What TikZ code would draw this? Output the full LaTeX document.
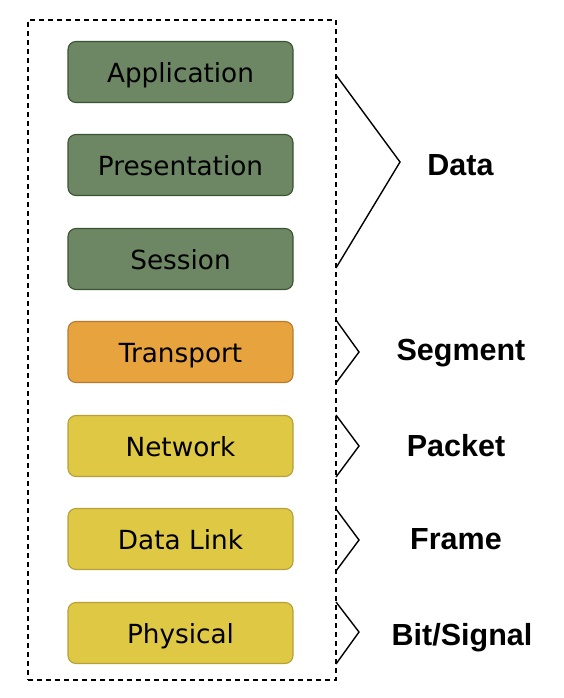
\documentclass[tikz,border=0pt]{standalone}
\usepackage{fontspec}
\setmainfont{DejaVu Sans}
\newfontfamily\labfont{Liberation Sans}
\definecolor{gfill}{HTML}{6D8764}
\definecolor{gdraw}{HTML}{3A5431}
\definecolor{ofill}{HTML}{E6A33E}
\definecolor{odraw}{HTML}{B97A2E}
\definecolor{yfill}{HTML}{DFC843}
\definecolor{ydraw}{HTML}{B5A03A}
\tikzset{
  layer/.style={rounded corners=8pt, minimum width=225pt, minimum height=61pt, line width=1.1pt, inner sep=0pt, text height=27pt, text depth=6pt, font=\fontsize{26.3}{30}\selectfont},
  glayer/.style={layer, fill=gfill, draw=gdraw},
  olayer/.style={layer, fill=ofill, draw=odraw},
  ylayer/.style={layer, fill=yfill, draw=ydraw},
  pdu/.style={font=\labfont\bfseries\fontsize{30.5}{34}\selectfont, inner sep=0pt, anchor=base},
  brace/.style={line width=1.4pt, line join=miter},
  frame/.style={draw, line width=1.3pt, dash pattern=on 5pt off 4pt}
}
\begin{document}
\begin{tikzpicture}[x=1pt,y=-1pt]
\useasboundingbox (0,0) rectangle (564,698);
\node[frame, minimum width=308pt, minimum height=660pt, inner sep=0pt] (box) at (182,350) {};
\node[glayer] (app) at (180.5,72) {Application};
\node[glayer] (pres) at (180.5,165) {Presentation};
\node[glayer] (sess) at (180.5,259) {Session};
\node[olayer] (trans) at (180.5,352) {Transport};
\node[ylayer] (net) at (180.5,446) {Network};
\node[ylayer] (dl) at (180.5,539) {Data Link};
\node[ylayer] (phy) at (180.5,633) {Physical};

\coordinate (d1) at (336,75); \coordinate (d2) at (400,162); \coordinate (d3) at (336,268);
\coordinate (s1) at (336,320); \coordinate (s2) at (359,352); \coordinate (s3) at (336,383);
\coordinate (p1) at (336,415); \coordinate (p2) at (359,446); \coordinate (p3) at (336,477);
\coordinate (f1) at (336,509); \coordinate (f2) at (359,540); \coordinate (f3) at (336,571);
\coordinate (b1) at (336,602); \coordinate (b2) at (359,632); \coordinate (b3) at (336,664);
\draw[brace] (d1) -- (d2) -- (d3);
\draw[brace] (s1) -- (s2) -- (s3);
\draw[brace] (p1) -- (p2) -- (p3);
\draw[brace] (f1) -- (f2) -- (f3);
\draw[brace] (b1) -- (b2) -- (b3);

\node[pdu] (ldata) at (460.5,175) {Data};
\node[pdu] (lseg) at (461,360) {Segment};
\node[pdu] (lpack) at (456,456.5) {Packet};
\node[pdu] (lframe) at (456,549) {Frame};
\node[pdu] (lbit) at (462,645) {Bit/Signal};
\end{tikzpicture}
\end{document}
